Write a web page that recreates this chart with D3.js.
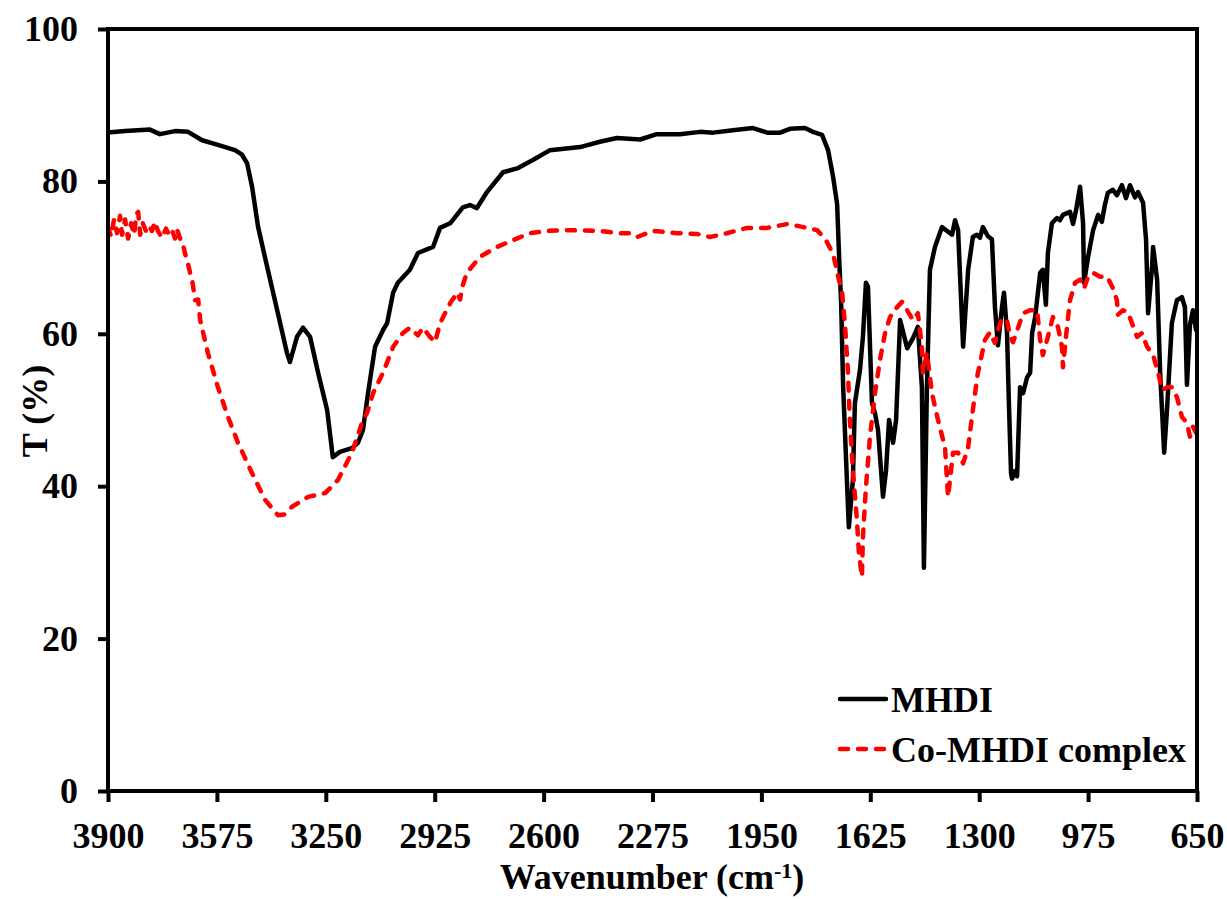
<!DOCTYPE html>
<html>
<head>
<meta charset="utf-8">
<script src="https://cdn.jsdelivr.net/npm/d3@7"></script>
<style>
  body { margin: 0; background: #fff; }
  text { font-family: "Liberation Serif", "Times New Roman", serif; font-weight: bold; }
</style>
</head>
<body>
<div class="content"></div>
<script>
// wavenumber (cm-1) / transmittance (%)
const mhdiWn = [3900, 3849, 3775, 3745, 3700, 3661, 3619, 3572, 3521, 3500, 3485, 3470, 3452, 3423, 3393, 3366, 3357, 3336, 3318, 3297, 3273, 3246, 3229, 3208, 3172, 3154, 3139, 3124, 3103, 3079, 3067, 3049, 3035, 2999, 2975, 2930, 2909, 2879, 2841, 2820, 2799, 2769, 2721, 2679, 2632, 2581, 2491, 2432, 2381, 2312, 2262, 2193, 2133, 2094, 2035, 1975, 1933, 1894, 1865, 1820, 1796, 1769, 1751, 1736, 1724, 1718, 1712, 1706, 1694, 1689, 1677, 1671, 1656, 1647, 1638, 1632, 1620, 1611, 1602, 1587, 1578, 1569, 1557, 1548, 1536, 1515, 1498, 1483, 1471, 1465, 1456, 1447, 1432, 1411, 1381, 1372, 1363, 1348, 1333, 1319, 1307, 1298, 1289, 1274, 1262, 1253, 1244, 1232, 1226, 1217, 1211, 1205, 1202, 1193, 1187, 1178, 1169, 1157, 1148, 1142, 1133, 1118, 1110, 1101, 1095, 1083, 1068, 1059, 1050, 1029, 1020, 1011, 999, 990, 987, 975, 960, 945, 934, 925, 916, 901, 889, 874, 862, 850, 835, 826, 811, 802, 796, 784, 781, 769, 760, 748, 739, 725, 710, 695, 686, 680, 671, 662, 653];
const mhdiT = [86.4, 86.6, 86.8, 86.2, 86.6, 86.5, 85.4, 84.8, 84.1, 83.5, 82.4, 79.3, 74.0, 68.4, 62.7, 57.5, 56.3, 59.6, 60.8, 59.6, 54.9, 50.0, 43.8, 44.5, 45.0, 45.7, 47.4, 52.2, 58.3, 60.5, 61.4, 65.4, 66.7, 68.4, 70.6, 71.4, 73.9, 74.5, 76.6, 76.9, 76.5, 78.6, 81.2, 81.7, 82.8, 84.1, 84.5, 85.2, 85.7, 85.5, 86.2, 86.2, 86.5, 86.4, 86.7, 87.0, 86.4, 86.4, 86.9, 87.0, 86.5, 86.1, 84.1, 80.6, 77.0, 70.0, 64.0, 53.0, 39.9, 34.6, 40.8, 50.9, 55.2, 59.6, 66.7, 66.2, 50.9, 49.6, 47.4, 38.6, 42.1, 48.7, 45.7, 48.7, 61.8, 58.1, 59.4, 60.9, 53.0, 29.3, 53.0, 68.4, 71.4, 74.0, 73.0, 74.9, 73.6, 58.3, 68.4, 72.7, 73.0, 72.6, 74.0, 72.8, 72.4, 63.5, 58.5, 63.5, 65.4, 60.1, 50.4, 41.7, 41.0, 42.0, 41.3, 53.0, 52.2, 54.3, 54.9, 60.1, 62.2, 68.0, 68.4, 63.8, 70.6, 74.5, 75.2, 74.9, 75.6, 76.0, 74.4, 76.2, 79.3, 74.5, 66.7, 70.1, 73.6, 75.6, 74.7, 76.9, 78.5, 78.9, 78.2, 79.5, 77.8, 79.5, 77.9, 78.6, 77.2, 72.3, 62.7, 68.9, 71.4, 67.1, 54.9, 44.4, 50.4, 61.4, 64.4, 64.8, 63.5, 53.3, 61.2, 63.1, 60.5];

const coWn = [3900, 3891, 3882, 3873, 3864, 3858, 3849, 3840, 3831, 3822, 3816, 3810, 3804, 3796, 3787, 3778, 3769, 3760, 3751, 3739, 3727, 3718, 3709, 3700, 3694, 3685, 3679, 3670, 3664, 3655, 3649, 3640, 3631, 3625, 3602, 3572, 3542, 3512, 3470, 3431, 3393, 3373, 3351, 3303, 3252, 3214, 3172, 3139, 3127, 3109, 3079, 3049, 3020, 2999, 2975, 2960, 2939, 2924, 2909, 2879, 2858, 2849, 2844, 2829, 2790, 2739, 2691, 2641, 2590, 2530, 2432, 2372, 2342, 2321, 2274, 2202, 2142, 2103, 2053, 1993, 1933, 1874, 1835, 1784, 1760, 1736, 1721, 1709, 1700, 1692, 1686, 1677, 1665, 1659, 1650, 1647, 1638, 1626, 1611, 1596, 1581, 1566, 1545, 1530, 1515, 1498, 1483, 1471, 1468, 1456, 1441, 1423, 1402, 1393, 1378, 1363, 1348, 1333, 1319, 1304, 1298, 1283, 1268, 1253, 1244, 1232, 1217, 1208, 1199, 1184, 1169, 1148, 1127, 1118, 1110, 1095, 1080, 1065, 1053, 1050, 1038, 1029, 1014, 999, 987, 975, 960, 939, 918, 901, 889, 886, 871, 856, 844, 829, 814, 799, 781, 766, 754, 739, 725, 710, 695, 680, 671, 662, 653];
const coT = [74.0, 72.8, 75.0, 73.2, 75.5, 73.0, 75.0, 72.5, 74.5, 73.0, 75.6, 76.0, 73.0, 74.5, 73.5, 74.2, 73.5, 74.7, 73.5, 72.6, 73.8, 73.0, 73.6, 72.5, 73.7, 72.5, 72.3, 70.5, 69.7, 68.0, 67.1, 64.4, 64.5, 61.8, 57.5, 53.0, 49.1, 45.7, 41.7, 38.2, 36.2, 36.3, 37.3, 38.6, 39.1, 40.8, 44.4, 48.7, 49.6, 52.2, 54.9, 58.3, 60.1, 60.8, 59.8, 60.8, 59.6, 58.9, 61.4, 64.0, 65.4, 64.5, 66.0, 68.0, 70.1, 71.4, 72.3, 73.2, 73.5, 73.6, 73.5, 73.2, 73.2, 72.7, 73.5, 73.2, 73.1, 72.7, 73.2, 73.9, 73.9, 74.4, 74.1, 73.6, 72.5, 70.5, 67.5, 65.4, 60.9, 55.2, 48.7, 42.1, 35.6, 31.2, 28.1, 33.3, 39.9, 46.5, 52.2, 56.6, 60.1, 62.2, 63.5, 64.2, 63.1, 61.8, 62.7, 58.3, 54.9, 57.5, 52.2, 48.7, 45.1, 38.6, 44.4, 44.4, 43.0, 45.1, 50.0, 54.9, 56.0, 59.2, 60.2, 58.8, 60.5, 62.0, 61.8, 59.6, 58.9, 60.8, 62.7, 63.1, 63.1, 59.2, 57.2, 59.6, 62.2, 60.9, 58.3, 55.6, 60.9, 64.4, 66.7, 67.1, 66.0, 67.5, 68.0, 67.5, 67.5, 66.0, 64.4, 62.5, 63.1, 62.8, 61.4, 59.6, 60.1, 58.3, 57.2, 54.9, 52.6, 53.0, 53.0, 51.7, 49.1, 48.3, 46.5, 47.8, 47.0];

const xTicks = [3900, 3575, 3250, 2925, 2600, 2275, 1950, 1625, 1300, 975, 650];
const yTicks = [0, 20, 40, 60, 80, 100];
const seriesNames = ['MHDI', 'Co-MHDI complex'];
const seriesColors = ['#000000', '#ff0000'];

const [svgWidth, svgHeight] = [1227, 899];
const svg = d3.select('.content')
  .append('svg')
  .attr('width', svgWidth)
  .attr('height', svgHeight);

const plot = {left: 108, right: 1197, top: 29, bottom: 791};

const x = d3.scaleLinear()
  .domain([3900, 650])
  .range([plot.left, plot.right]);
const y = d3.scaleLinear()
  .domain([0, 100])
  .range([plot.bottom, plot.top]);

svg.append('clipPath')
  .attr('id', 'clip')
  .append('rect')
  .attr('x', plot.left)
  .attr('y', plot.top)
  .attr('width', plot.right - plot.left)
  .attr('height', plot.bottom - plot.top);

const line = d3.line()
  .x(d => x(d[0]))
  .y(d => y(d[1]));

const series = [
  d3.zip(mhdiWn, mhdiT),
  d3.zip(coWn, coT)
];

const dash = '8,10';

svg.append('g')
  .attr('clip-path', 'url(#clip)')
  .selectAll('path.trace')
  .data(series)
  .enter()
  .append('path')
  .classed('trace', true)
  .attr('fill', 'none')
  .attr('stroke', (d, i) => seriesColors[i])
  .attr('stroke-width', 4.5)
  .attr('stroke-linejoin', 'round')
  .attr('stroke-linecap', 'round')
  .attr('stroke-dasharray', (d, i) => i === 1 ? dash : null)
  .attr('d', line);

// frame
svg.append('rect')
  .attr('x', plot.left)
  .attr('y', plot.top)
  .attr('width', plot.right - plot.left)
  .attr('height', plot.bottom - plot.top)
  .attr('fill', 'none')
  .attr('stroke', '#000')
  .attr('stroke-width', 4);

const styleAxis = (g) => {
  g.select('.domain').remove();
  g.selectAll('.tick line').attr('stroke', '#000').attr('stroke-width', 4);
  g.selectAll('.tick text')
    .attr('fill', '#000')
    .style('font-size', '36px')
    .style('font-family', '"Liberation Serif", "Times New Roman", serif')
    .style('font-weight', 'bold');
};

svg.append('g')
  .attr('transform', `translate(0, ${plot.bottom})`)
  .call(d3.axisBottom(x).tickValues(xTicks).tickFormat(d3.format('d')).tickSize(11).tickPadding(20))
  .call(styleAxis);

svg.append('g')
  .attr('transform', `translate(${plot.left}, 0)`)
  .call(d3.axisLeft(y).tickValues(yTicks).tickSize(10).tickPadding(20))
  .call(styleAxis);

// axis titles
const xTitle = svg.append('text')
  .attr('x', 652)
  .attr('y', 889)
  .attr('text-anchor', 'middle')
  .style('font-size', '36px');
xTitle.append('tspan').text('Wavenumber (cm');
xTitle.append('tspan').attr('dy', -11).style('font-size', '22px').text('-1');
xTitle.append('tspan').attr('dy', 11).text(')');

svg.append('text')
  .attr('transform', 'translate(47, 411) rotate(-90)')
  .attr('text-anchor', 'middle')
  .style('font-size', '36px')
  .text('T (%)');

// legend
const legend = svg.append('g')
  .selectAll('g.entry')
  .data(seriesNames)
  .enter()
  .append('g')
  .classed('entry', true)
  .attr('transform', (d, i) => `translate(838, ${699 + 50 * i})`);
legend.append('line')
  .attr('x1', 2)
  .attr('x2', 48)
  .attr('stroke', (d, i) => seriesColors[i])
  .attr('stroke-width', 4.5)
  .attr('stroke-linecap', 'round')
  .attr('stroke-dasharray', (d, i) => i === 1 ? dash : null);
legend.append('text')
  .attr('x', 53)
  .attr('y', 13)
  .style('font-size', '36px')
  .text(d => d);
</script>
</body>
</html>
